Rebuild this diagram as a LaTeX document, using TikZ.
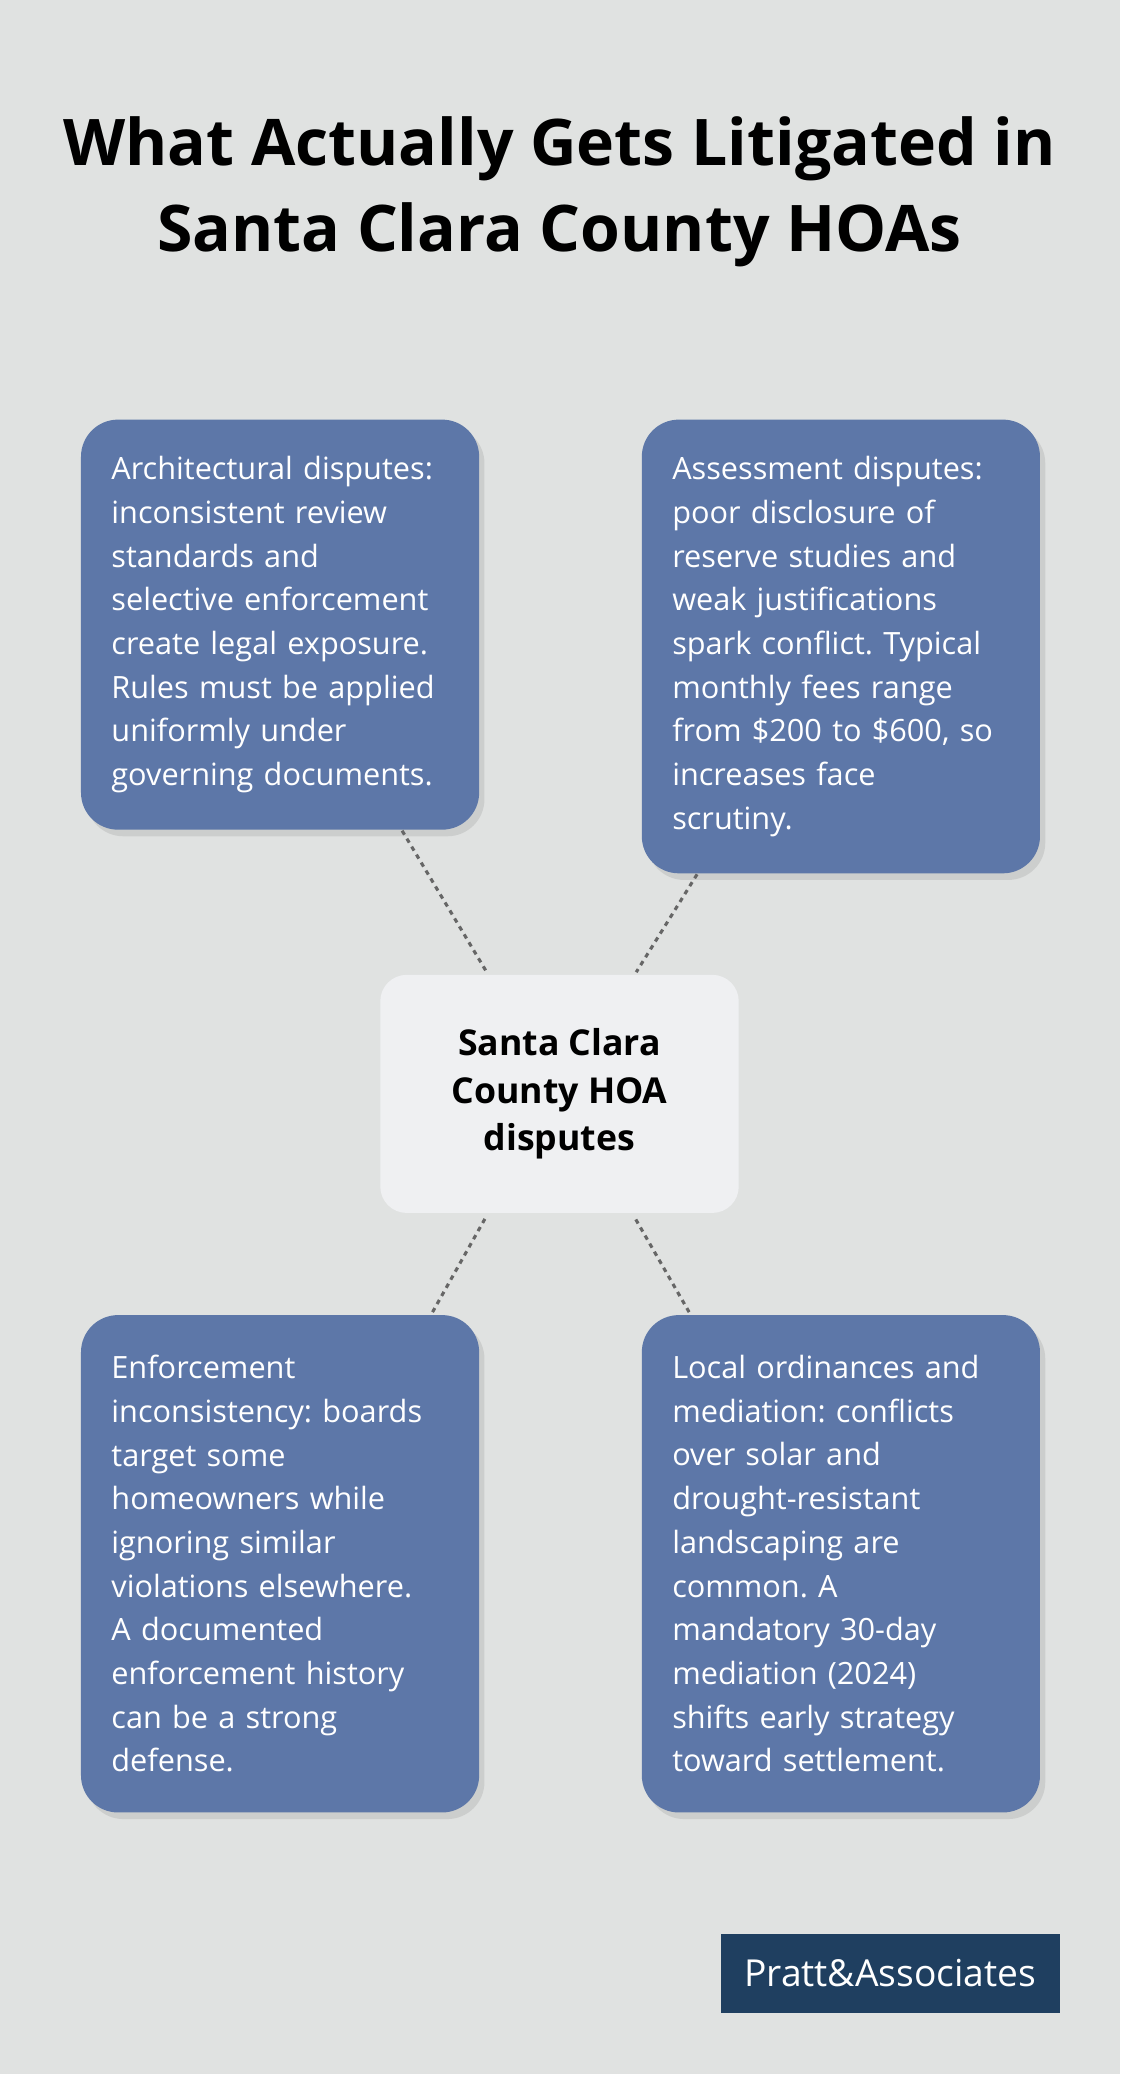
\documentclass[tikz,border=0pt]{standalone}
\usepackage{fontspec}
\setmainfont{Open Sans}
\usepackage{xcolor}
\usetikzlibrary{shadows}
\definecolor{bgcol}{HTML}{E0E2E1}
\definecolor{boxcol}{HTML}{5D77A8}
\definecolor{hubcol}{HTML}{EFF0F2}
\definecolor{logocol}{HTML}{1F3F60}
\tikzset{
  topic/.style={fill=boxcol, rounded corners=0.84cm, text=white, anchor=north west,
    text width=7.65cm, inner xsep=0.69cm, minimum width=9.03cm, align=left,
    font=\fontsize{19.8}{28.2}\selectfont\frenchspacing,
    drop shadow={opacity=0.2, shadow xshift=0.12cm, shadow yshift=-0.15cm}},
  link/.style={dash pattern=on 3pt off 3pt, line width=2pt, black!60}
}
\begin{document}
\begin{tikzpicture}[x=0.03cm,y=-0.03cm]
    \fill[bgcol] (0,0) rectangle (847,1568);
    \useasboundingbox (0,0) rectangle (847,1568);

    % title
    \node[font=\bfseries\fontsize{41.5}{55}\selectfont, align=center] (title) at (423,145)
        {What Actually Gets Litigated in\\Santa Clara County HOAs};

    % topic boxes
    \node[topic, minimum height=9.3cm] (arch) at (61,317)
        {Architectural disputes:\\inconsistent review\\standards and\\selective enforcement\\create legal exposure.\\Rules must be applied\\uniformly under\\governing documents.};
    \node[topic, minimum height=10.29cm] (assess) at (485,317)
        {Assessment disputes:\\poor disclosure of\\reserve studies and\\weak justifications\\spark conflict. Typical\\monthly fees range\\from \$200 to \$600, so\\increases face\\scrutiny.};
    \node[topic, minimum height=11.28cm] (enforce) at (61,994)
        {Enforcement\\inconsistency: boards\\target some\\homeowners while\\ignoring similar\\violations elsewhere.\\A documented\\enforcement history\\can be a strong\\defense.};
    \node[topic, minimum height=11.28cm] (local) at (485,994)
        {Local ordinances and\\mediation: conflicts\\over solar and\\drought-resistant\\landscaping are\\common. A\\mandatory 30-day\\mediation (2024)\\shifts early strategy\\toward settlement.};

    % hub
    \node[fill=hubcol, rounded corners=0.6cm, minimum width=8.13cm, minimum height=5.4cm,
        align=center, font=\bfseries\fontsize{23}{30.5}\selectfont] (hub) at (423,827)
        {Santa Clara\\County HOA\\disputes};

    % connectors
    \coordinate (a1) at (304,628);  \coordinate (h1) at (368,735);
    \coordinate (a2) at (527,661);  \coordinate (h2) at (481,735);
    \coordinate (a3) at (327,992);  \coordinate (h3) at (368,919);
    \coordinate (a4) at (521,992);  \coordinate (h4) at (479,919);
    \draw[link] (a1) -- (h1);
    \draw[link] (a2) -- (h2);
    \draw[link] (a3) -- (h3);
    \draw[link] (a4) -- (h4);

    % logo
    \node[fill=logocol, text=white, minimum width=7.68cm, minimum height=1.8cm,
        font=\fontsize{24}{28}\selectfont] (logo) at (673,1492) {Pratt\&Associates};
\end{tikzpicture}
\end{document}
